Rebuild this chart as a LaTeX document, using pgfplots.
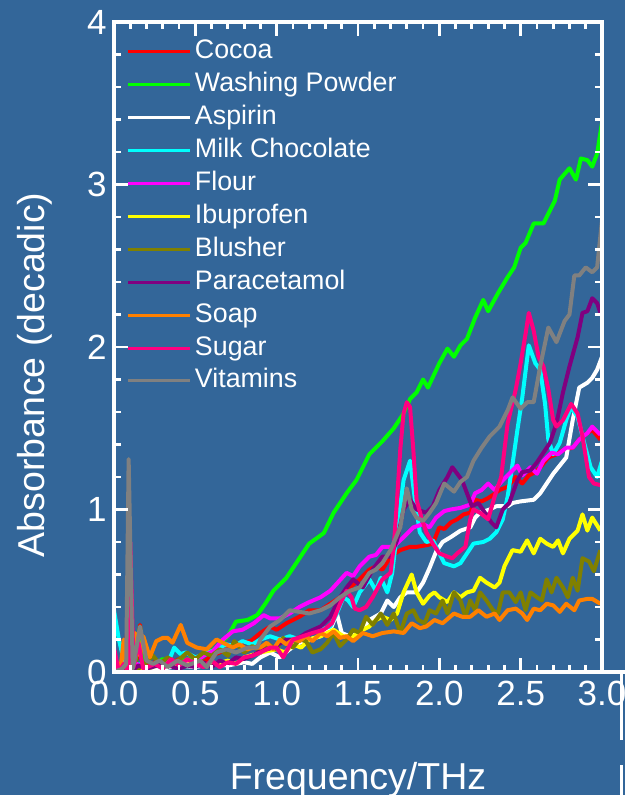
\documentclass[border=0pt]{standalone}
\usepackage{fontspec}
\setmainfont{Liberation Sans}
\usepackage{pgfplots}
\pgfplotsset{compat=1.18}
\definecolor{bg}{RGB}{51,102,153}
\definecolor{cocoa}{RGB}{255,0,0}
\definecolor{wash}{RGB}{0,255,0}
\definecolor{milk}{RGB}{0,255,255}
\definecolor{flour}{RGB}{255,0,255}
\definecolor{ibu}{RGB}{255,255,0}
\definecolor{blush}{RGB}{128,128,0}
\definecolor{para}{RGB}{128,0,128}
\definecolor{soap}{RGB}{255,128,0}
\definecolor{sugar}{RGB}{255,0,128}
\definecolor{vita}{RGB}{128,128,128}
\begin{document}
\begin{tikzpicture}
\useasboundingbox (-114pt,-123pt) rectangle (511pt,672pt);
\fill[bg] (-114pt,-123pt) rectangle (511pt,672pt);
\begin{axis}[
  at={(0pt,0pt)}, anchor=south west,
  scale only axis, width=488pt, height=650pt,
  xmin=0, xmax=3, ymin=0, ymax=4,
  axis line style={white, line width=3.5pt},
  xtick style={color=white, line width=2.8pt},
  ytick style={color=white, line width=2.8pt},
  xtick pos=both, ytick pos=both,
  major tick length=14pt, minor tick length=7pt,
  tick align=inside,
  axis on top,
  xtick={0,0.5,1,1.5,2,2.5,3}, minor x tick num=4,
  ytick={0,1,2,3,4}, minor y tick num=4,
  tick label style={white, font=\fontsize{35}{42}\selectfont},
  /pgf/number format/assume math mode=true,
  xticklabel style={/pgf/number format/.cd, fixed, fixed zerofill, precision=1, /tikz/.cd, yshift=-6pt},
  yticklabel style={xshift=-4pt},
  xlabel={Frequency/THz}, ylabel={Absorbance (decadic)},
  label style={white, font=\fontsize{37.5}{45}\selectfont},
  xlabel style={at={(axis description cs:0.5,-0.1815)}, anchor=base},
  ylabel style={at={(axis description cs:-0.1414,0.457)}, anchor=base},
  legend style={at={(axis description cs:0.0266,0.9785)}, anchor=north west, draw=none, fill=none, inner sep=0pt, outer sep=0pt, font=\fontsize{26.8}{32}\selectfont, text=white, row sep=0.9pt, nodes={inner sep=3pt, text height=20pt, text depth=6pt}},
  legend cell align=left,
  legend image code/.code={\draw[line width=3pt] (0pt,0pt) -- (62pt,0pt);},
  after end axis/.code={
    \foreach \t in {0,0.1,...,3.01} {\draw[white, line width=2.8pt] (axis cs:\t,0) -- ++(0pt,7pt); \draw[white, line width=2.8pt] (axis cs:\t,4) -- ++(0pt,-7pt);}
    \foreach \t in {0,0.5,...,3.01} {\draw[white, line width=2.8pt] (axis cs:\t,0) -- ++(0pt,14pt); \draw[white, line width=2.8pt] (axis cs:\t,4) -- ++(0pt,-14pt);}
    \foreach \t in {0,0.2,...,4.01} {\draw[white, line width=2.8pt] (axis cs:0,\t) -- ++(7pt,0pt); \draw[white, line width=2.8pt] (axis cs:3,\t) -- ++(-7pt,0pt);}
    \foreach \t in {0,1,...,4} {\draw[white, line width=2.8pt] (axis cs:0,\t) -- ++(14pt,0pt); \draw[white, line width=2.8pt] (axis cs:3,\t) -- ++(-14pt,0pt);}
  },
]
\addplot[cocoa, line width=4pt, line join=round] coordinates {(0.00,0.05) (0.03,0.0) (0.06,0.02) (0.09,0.35) (0.11,0.02) (0.14,0.08) (0.16,0.29) (0.19,0.03) (0.25,0.06) (0.3,0.03) (0.35,0.05) (0.4,0.08) (0.45,0.05) (0.5,0.09) (0.55,0.06) (0.6,0.1) (0.65,0.12) (0.7,0.15) (0.73,0.17) (0.78,0.18) (0.84,0.19) (0.9,0.24) (0.96,0.28) (1.0,0.26) (1.06,0.30) (1.14,0.34) (1.2,0.38) (1.27,0.38) (1.33,0.42) (1.39,0.46) (1.45,0.52) (1.51,0.57) (1.57,0.63) (1.61,0.65) (1.65,0.63) (1.70,0.71) (1.76,0.75) (1.82,0.77) (1.86,0.77) (1.92,0.78) (1.96,0.79) (2.0,0.89) (2.03,0.88) (2.07,0.92) (2.11,0.94) (2.15,0.97) (2.19,0.98) (2.22,1.06) (2.26,1.05) (2.30,1.07) (2.33,1.09) (2.37,1.12) (2.42,1.14) (2.47,1.20) (2.51,1.16) (2.55,1.21) (2.59,1.23) (2.63,1.27) (2.67,1.32) (2.72,1.34) (2.77,1.37) (2.82,1.38) (2.86,1.43) (2.91,1.47) (2.94,1.49) (2.99,1.43)};
\addlegendentry{Cocoa}
\addplot[wash, line width=4pt, line join=round] coordinates {(0.02,0.0) (0.1,0.0) (0.13,0.05) (0.16,0.28) (0.19,0.02) (0.25,0.05) (0.3,0.08) (0.35,0.04) (0.4,0.06) (0.45,0.08) (0.5,0.07) (0.55,0.1) (0.6,0.13) (0.65,0.17) (0.7,0.22) (0.75,0.31) (0.82,0.32) (0.88,0.35) (0.93,0.42) (0.98,0.5) (1.06,0.58) (1.12,0.67) (1.2,0.79) (1.29,0.855) (1.35,0.98) (1.43,1.10) (1.49,1.18) (1.57,1.34) (1.65,1.42) (1.72,1.50) (1.78,1.59) (1.82,1.68) (1.86,1.72) (1.90,1.80) (1.93,1.75) (2.0,1.9) (2.05,1.99) (2.09,1.94) (2.13,2.01) (2.17,2.05) (2.22,2.18) (2.27,2.29) (2.30,2.22) (2.36,2.33) (2.42,2.43) (2.46,2.49) (2.50,2.61) (2.53,2.64) (2.58,2.76) (2.64,2.76) (2.71,2.90) (2.74,3.03) (2.80,3.10) (2.84,3.03) (2.87,3.16) (2.91,3.15) (2.94,3.11) (2.97,3.19) (3.0,3.38)};
\addlegendentry{Washing Powder}
\addplot[white, line width=4pt, line join=round] coordinates {(0.0,0.02) (0.05,0.0) (0.1,0.03) (0.15,0.01) (0.2,0.03) (0.3,0.02) (0.4,0.04) (0.5,0.03) (0.6,0.05) (0.7,0.04) (0.8,0.06) (0.85,0.05) (0.9,0.09) (0.96,0.12) (1.02,0.09) (1.08,0.14) (1.14,0.18) (1.2,0.2) (1.27,0.22) (1.33,0.26) (1.37,0.36) (1.40,0.24) (1.45,0.22) (1.51,0.24) (1.57,0.32) (1.64,0.36) (1.68,0.44) (1.72,0.40) (1.76,0.46) (1.80,0.49) (1.86,0.49) (1.90,0.55) (1.94,0.64) (1.98,0.74) (2.02,0.80) (2.07,0.83) (2.13,0.87) (2.19,0.89) (2.22,0.95) (2.25,0.98) (2.31,1.0) (2.35,1.02) (2.42,1.02) (2.45,1.04) (2.50,1.05) (2.58,1.06) (2.62,1.10) (2.66,1.16) (2.70,1.22) (2.74,1.27) (2.78,1.32) (2.82,1.55) (2.86,1.75) (2.91,1.78) (2.94,1.81) (2.97,1.86) (3.0,1.94)};
\addlegendentry{Aspirin}
\addplot[milk, line width=4pt, line join=round] coordinates {(0.0,0.38) (0.03,0.2) (0.07,0.03) (0.1,0.1) (0.13,0.02) (0.16,0.05) (0.2,0.02) (0.25,0.04) (0.3,0.03) (0.33,0.05) (0.37,0.15) (0.41,0.11) (0.44,0.12) (0.5,0.09) (0.53,0.10) (0.57,0.12) (0.61,0.13) (0.65,0.15) (0.69,0.17) (0.74,0.16) (0.79,0.19) (0.85,0.17) (0.9,0.2) (0.96,0.22) (1.02,0.2) (1.08,0.22) (1.14,0.2) (1.2,0.24) (1.27,0.26) (1.33,0.28) (1.37,0.36) (1.41,0.46) (1.44,0.44) (1.47,0.40) (1.51,0.49) (1.57,0.57) (1.61,0.50) (1.64,0.58) (1.68,0.49) (1.71,0.61) (1.74,0.86) (1.78,1.18) (1.82,1.30) (1.85,1.06) (1.88,0.86) (1.92,0.80) (1.96,0.81) (2.0,0.73) (2.03,0.67) (2.09,0.65) (2.13,0.67) (2.17,0.73) (2.21,0.79) (2.27,0.80) (2.31,0.82) (2.35,0.86) (2.39,0.94) (2.42,1.08) (2.45,1.28) (2.48,1.49) (2.51,1.69) (2.55,2.01) (2.59,1.90) (2.62,1.86) (2.65,1.65) (2.67,1.43) (2.70,1.34) (2.74,1.41) (2.78,1.55) (2.81,1.63) (2.85,1.57) (2.88,1.45) (2.93,1.26) (2.97,1.20) (3.0,1.30)};
\addlegendentry{Milk Chocolate}
\addplot[flour, line width=4pt, line join=round] coordinates {(0.0,0.1) (0.03,0.0) (0.06,0.05) (0.1,0.0) (0.14,0.05) (0.2,0.02) (0.25,0.05) (0.3,0.03) (0.35,0.06) (0.4,0.04) (0.45,0.07) (0.5,0.06) (0.55,0.1) (0.61,0.13) (0.67,0.2) (0.73,0.25) (0.79,0.26) (0.86,0.30) (0.92,0.35) (0.96,0.33) (1.02,0.33) (1.08,0.36) (1.14,0.40) (1.2,0.43) (1.27,0.46) (1.33,0.50) (1.43,0.61) (1.47,0.59) (1.51,0.65) (1.57,0.71) (1.61,0.72) (1.65,0.77) (1.72,0.77) (1.78,0.83) (1.84,0.89) (1.90,0.91) (1.94,0.89) (1.98,0.95) (2.03,0.99) (2.07,1.0) (2.13,1.01) (2.19,1.03) (2.22,1.10) (2.26,1.12) (2.30,1.16) (2.34,1.12) (2.39,1.18) (2.43,1.22) (2.48,1.27) (2.51,1.21) (2.56,1.26) (2.60,1.22) (2.64,1.30) (2.69,1.35) (2.73,1.34) (2.78,1.38) (2.82,1.38) (2.86,1.43) (2.91,1.47) (2.94,1.51) (2.99,1.46)};
\addlegendentry{Flour}
\addplot[ibu, line width=4pt, line join=round] coordinates {(0.0,0.02) (0.05,0.0) (0.1,0.03) (0.15,0.01) (0.2,0.02) (0.3,0.05) (0.4,0.03) (0.5,0.06) (0.6,0.04) (0.7,0.07) (0.75,0.05) (0.8,0.09) (0.9,0.12) (1.0,0.14) (1.05,0.12) (1.1,0.17) (1.15,0.15) (1.2,0.2) (1.27,0.22) (1.31,0.24) (1.35,0.26) (1.41,0.22) (1.47,0.22) (1.53,0.26) (1.57,0.28) (1.61,0.32) (1.65,0.34) (1.70,0.32) (1.74,0.36) (1.78,0.49) (1.83,0.60) (1.86,0.49) (1.90,0.42) (1.94,0.47) (1.97,0.49) (2.0,0.46) (2.05,0.43) (2.09,0.49) (2.13,0.46) (2.17,0.49) (2.21,0.50) (2.25,0.58) (2.29,0.55) (2.34,0.52) (2.37,0.55) (2.40,0.65) (2.45,0.75) (2.50,0.74) (2.54,0.81) (2.58,0.73) (2.62,0.82) (2.66,0.79) (2.70,0.77) (2.73,0.81) (2.76,0.73) (2.80,0.82) (2.85,0.87) (2.88,0.97) (2.91,0.87) (2.94,0.95) (2.99,0.87)};
\addlegendentry{Ibuprofen}
\addplot[blush, line width=4pt, line join=round] coordinates {(0.0,0.02) (0.05,0.0) (0.1,0.04) (0.15,0.02) (0.2,0.06) (0.24,0.1) (0.28,0.05) (0.33,0.09) (0.38,0.06) (0.45,0.12) (0.5,0.08) (0.55,0.12) (0.6,0.1) (0.65,0.14) (0.7,0.1) (0.74,0.19) (0.8,0.12) (0.85,0.16) (0.9,0.13) (0.95,0.17) (1.0,0.14) (1.04,0.21) (1.1,0.15) (1.14,0.2) (1.18,0.19) (1.22,0.12) (1.27,0.14) (1.31,0.18) (1.35,0.24) (1.39,0.16) (1.43,0.20) (1.47,0.26) (1.51,0.24) (1.55,0.34) (1.59,0.29) (1.64,0.36) (1.68,0.29) (1.72,0.36) (1.76,0.24) (1.80,0.36) (1.84,0.38) (1.87,0.32) (1.91,0.30) (1.94,0.38) (1.98,0.36) (2.02,0.44) (2.05,0.36) (2.09,0.49) (2.13,0.44) (2.16,0.34) (2.19,0.44) (2.22,0.38) (2.25,0.49) (2.29,0.44) (2.33,0.38) (2.36,0.36) (2.39,0.49) (2.43,0.49) (2.47,0.43) (2.50,0.49) (2.53,0.38) (2.56,0.49) (2.60,0.46) (2.63,0.44) (2.66,0.57) (2.69,0.49) (2.72,0.58) (2.76,0.52) (2.79,0.46) (2.82,0.58) (2.85,0.50) (2.88,0.70) (2.92,0.68) (2.95,0.62) (2.99,0.75)};
\addlegendentry{Blusher}
\addplot[para, line width=4pt, line join=round] coordinates {(0.0,0.05) (0.03,0.0) (0.07,0.03) (0.1,0.0) (0.15,0.04) (0.2,0.02) (0.3,0.05) (0.4,0.02) (0.45,0.04) (0.5,0.03) (0.55,0.06) (0.6,0.03) (0.65,0.07) (0.7,0.05) (0.75,0.09) (0.8,0.08) (0.85,0.1) (0.9,0.13) (0.98,0.15) (1.06,0.2) (1.12,0.2) (1.18,0.24) (1.27,0.28) (1.33,0.34) (1.39,0.46) (1.43,0.52) (1.47,0.57) (1.53,0.52) (1.59,0.63) (1.65,0.71) (1.70,0.71) (1.74,0.81) (1.78,1.0) (1.82,1.06) (1.86,1.0) (1.92,0.98) (1.96,1.02) (2.0,1.12) (2.05,1.20) (2.08,1.26) (2.11,1.22) (2.14,1.18) (2.17,1.10) (2.20,1.02) (2.24,1.04) (2.28,0.98) (2.32,0.92) (2.35,0.89) (2.39,1.0) (2.43,1.04) (2.48,1.18) (2.51,1.23) (2.56,1.24) (2.60,1.29) (2.64,1.35) (2.68,1.41) (2.72,1.53) (2.76,1.72) (2.80,1.88) (2.85,2.06) (2.88,2.21) (2.91,2.22) (2.94,2.30) (2.97,2.27) (2.99,2.21)};
\addlegendentry{Paracetamol}
\addplot[soap, line width=4pt, line join=round] coordinates {(0.0,0.0) (0.04,0.02) (0.06,0.20) (0.08,0.0) (0.1,0.05) (0.13,0.24) (0.16,0.1) (0.18,0.22) (0.22,0.09) (0.26,0.19) (0.30,0.21) (0.33,0.21) (0.36,0.18) (0.41,0.29) (0.45,0.18) (0.51,0.15) (0.57,0.14) (0.63,0.20) (0.69,0.17) (0.73,0.15) (0.77,0.17) (0.82,0.14) (0.86,0.15) (0.90,0.15) (0.94,0.18) (0.98,0.14) (1.02,0.2) (1.06,0.17) (1.10,0.20) (1.14,0.19) (1.18,0.22) (1.22,0.19) (1.27,0.24) (1.31,0.22) (1.35,0.25) (1.39,0.21) (1.43,0.22) (1.47,0.19) (1.53,0.24) (1.59,0.22) (1.65,0.24) (1.72,0.25) (1.78,0.24) (1.83,0.30) (1.88,0.27) (1.92,0.28) (1.97,0.32) (2.02,0.30) (2.09,0.36) (2.14,0.34) (2.19,0.34) (2.24,0.38) (2.29,0.34) (2.34,0.36) (2.37,0.32) (2.42,0.38) (2.47,0.39) (2.51,0.36) (2.54,0.32) (2.58,0.39) (2.62,0.38) (2.66,0.42) (2.70,0.41) (2.74,0.37) (2.78,0.42) (2.83,0.38) (2.86,0.44) (2.91,0.45) (2.94,0.45) (2.99,0.42)};
\addlegendentry{Soap}
\addplot[sugar, line width=4pt, line join=round] coordinates {(0.0,0.15) (0.03,0.0) (0.06,0.05) (0.09,0.0) (0.10,0.8) (0.12,0.03) (0.15,0.18) (0.18,0.02) (0.25,0.05) (0.3,0.02) (0.35,0.08) (0.4,0.04) (0.45,0.08) (0.5,0.05) (0.55,0.03) (0.6,0.07) (0.65,0.03) (0.7,0.06) (0.75,0.05) (0.8,0.09) (0.85,0.10) (0.90,0.12) (0.96,0.15) (1.0,0.15) (1.04,0.09) (1.10,0.2) (1.16,0.22) (1.22,0.24) (1.29,0.26) (1.34,0.30) (1.39,0.42) (1.43,0.50) (1.46,0.46) (1.48,0.39) (1.51,0.38) (1.55,0.40) (1.59,0.46) (1.65,0.57) (1.70,0.61) (1.72,0.77) (1.74,1.06) (1.76,1.37) (1.78,1.59) (1.80,1.66) (1.82,1.63) (1.84,1.37) (1.86,1.06) (1.89,0.95) (1.92,0.86) (1.96,0.79) (2.0,0.73) (2.05,0.71) (2.08,0.70) (2.11,0.73) (2.16,0.77) (2.19,0.94) (2.21,1.0) (2.25,0.98) (2.30,0.94) (2.34,1.08) (2.38,1.2) (2.42,1.53) (2.47,1.74) (2.50,1.90) (2.53,2.08) (2.55,2.21) (2.58,2.10) (2.61,1.94) (2.64,1.88) (2.67,1.74) (2.70,1.55) (2.72,1.51) (2.76,1.55) (2.81,1.65) (2.85,1.59) (2.88,1.45) (2.92,1.2) (2.95,1.16) (2.99,1.15)};
\addlegendentry{Sugar}
\addplot[vita, line width=4pt, line join=round] coordinates {(0.0,0.0) (0.05,0.02) (0.075,0.05) (0.09,1.31) (0.115,0.02) (0.13,0.1) (0.16,0.28) (0.20,0.07) (0.24,0.05) (0.28,0.07) (0.33,0.03) (0.39,0.07) (0.45,0.04) (0.53,0.07) (0.57,0.03) (0.63,0.12) (0.69,0.14) (0.75,0.12) (0.82,0.15) (0.88,0.15) (0.90,0.20) (0.96,0.28) (1.02,0.32) (1.08,0.38) (1.14,0.37) (1.2,0.36) (1.27,0.38) (1.33,0.41) (1.39,0.46) (1.45,0.50) (1.51,0.52) (1.57,0.61) (1.61,0.63) (1.65,0.67) (1.70,0.75) (1.76,0.89) (1.80,1.13) (1.83,1.0) (1.86,0.95) (1.90,0.93) (1.94,0.98) (1.98,1.04) (2.03,1.16) (2.09,1.11) (2.13,1.17) (2.17,1.20) (2.21,1.30) (2.26,1.38) (2.31,1.45) (2.37,1.51) (2.42,1.61) (2.45,1.69) (2.50,1.62) (2.54,1.66) (2.58,1.66) (2.62,1.88) (2.67,2.12) (2.72,2.03) (2.77,2.16) (2.80,2.20) (2.83,2.44) (2.86,2.44) (2.90,2.49) (2.94,2.46) (2.97,2.49) (3.0,2.78)};
\addlegendentry{Vitamins}
\end{axis}
\draw[white, line width=3.5pt] (488pt,0pt) -- (511pt,0pt);
\draw[white, line width=3pt] (507pt,-2pt) -- (507pt,-68pt);
\draw[white, line width=3pt] (507pt,-93pt) -- (507pt,-123pt);
\end{tikzpicture}
\end{document}
